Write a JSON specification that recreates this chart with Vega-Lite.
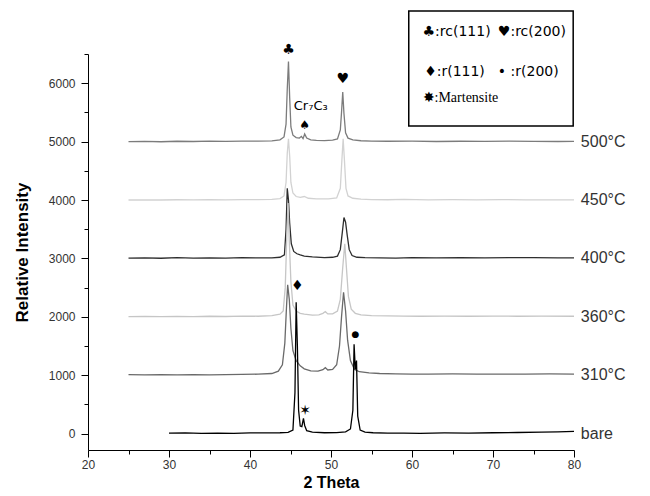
{
  "$schema": "https://vega.github.io/schema/vega-lite/v6.json",
  "width": 486,
  "height": 396,
  "autosize": {"type": "none"},
  "padding": {"left": 88, "top": 54, "right": 76, "bottom": 46},
  "background": "white",
  "config": {"view": {"stroke": null}, "font": "Liberation Sans"},
  "datasets": {
    "curves": [
      {"s":"500","x":25,"y":5000},{"s":"500","x":27,"y":5005},{"s":"500","x":29,"y":4998},{"s":"500","x":31,"y":5006},{"s":"500","x":33,"y":5002},{"s":"500","x":35,"y":5008},{"s":"500","x":37,"y":5003},{"s":"500","x":39,"y":5010},{"s":"500","x":41,"y":5008},{"s":"500","x":42.7,"y":5012},{"s":"500","x":43.7,"y":5030},{"s":"500","x":44.2,"y":5080},{"s":"500","x":44.45,"y":5300},{"s":"500","x":44.6,"y":5900},{"s":"500","x":44.75,"y":6370},{"s":"500","x":44.9,"y":5750},{"s":"500","x":45.05,"y":5250},{"s":"500","x":45.3,"y":5110},{"s":"500","x":45.7,"y":5070},{"s":"500","x":46.1,"y":5060},{"s":"500","x":46.35,"y":5090},{"s":"500","x":46.55,"y":5050},{"s":"500","x":46.75,"y":5130},{"s":"500","x":47.0,"y":5060},{"s":"500","x":47.5,"y":5030},{"s":"500","x":48.2,"y":5020},{"s":"500","x":49.2,"y":5018},{"s":"500","x":50.2,"y":5025},{"s":"500","x":50.8,"y":5045},{"s":"500","x":51.15,"y":5200},{"s":"500","x":51.3,"y":5500},{"s":"500","x":51.45,"y":5850},{"s":"500","x":51.6,"y":5480},{"s":"500","x":51.8,"y":5150},{"s":"500","x":52.1,"y":5060},{"s":"500","x":52.7,"y":5030},{"s":"500","x":53.7,"y":5015},{"s":"500","x":55,"y":5010},{"s":"500","x":57,"y":5006},{"s":"500","x":60,"y":5008},{"s":"500","x":63,"y":5002},{"s":"500","x":66,"y":5006},{"s":"500","x":69,"y":5003},{"s":"500","x":72,"y":5007},{"s":"500","x":75,"y":5004},{"s":"500","x":78,"y":5002},{"s":"500","x":80,"y":5003},

      {"s":"450","x":25,"y":4000},{"s":"450","x":27,"y":4004},{"s":"450","x":29,"y":4000},{"s":"450","x":31,"y":4005},{"s":"450","x":33,"y":4002},{"s":"450","x":35,"y":4006},{"s":"450","x":37,"y":4002},{"s":"450","x":39,"y":4008},{"s":"450","x":41,"y":4006},{"s":"450","x":42.7,"y":4010},{"s":"450","x":43.7,"y":4025},{"s":"450","x":44.2,"y":4070},{"s":"450","x":44.45,"y":4300},{"s":"450","x":44.6,"y":4800},{"s":"450","x":44.75,"y":5050},{"s":"450","x":44.9,"y":4750},{"s":"450","x":45.05,"y":4300},{"s":"450","x":45.3,"y":4120},{"s":"450","x":45.7,"y":4060},{"s":"450","x":46.2,"y":4045},{"s":"450","x":46.7,"y":4060},{"s":"450","x":47.2,"y":4030},{"s":"450","x":48.2,"y":4020},{"s":"450","x":49.7,"y":4020},{"s":"450","x":50.7,"y":4035},{"s":"450","x":51.15,"y":4200},{"s":"450","x":51.35,"y":4700},{"s":"450","x":51.5,"y":5050},{"s":"450","x":51.65,"y":4700},{"s":"450","x":51.85,"y":4200},{"s":"450","x":52.1,"y":4070},{"s":"450","x":52.7,"y":4030},{"s":"450","x":53.7,"y":4015},{"s":"450","x":55,"y":4008},{"s":"450","x":57,"y":4005},{"s":"450","x":59,"y":4010},{"s":"450","x":62,"y":4004},{"s":"450","x":65,"y":4008},{"s":"450","x":68,"y":4003},{"s":"450","x":71,"y":4006},{"s":"450","x":74,"y":4004},{"s":"450","x":77,"y":4003},{"s":"450","x":80,"y":4002},

      {"s":"400","x":25,"y":3005},{"s":"400","x":27,"y":3010},{"s":"400","x":29,"y":3003},{"s":"400","x":31,"y":3012},{"s":"400","x":33,"y":3006},{"s":"400","x":35,"y":3010},{"s":"400","x":37,"y":3004},{"s":"400","x":39,"y":3012},{"s":"400","x":41,"y":3008},{"s":"400","x":42.7,"y":3010},{"s":"400","x":43.7,"y":3020},{"s":"400","x":44.25,"y":3060},{"s":"400","x":44.45,"y":3500},{"s":"400","x":44.6,"y":4200},{"s":"400","x":44.75,"y":4000},{"s":"400","x":44.9,"y":3600},{"s":"400","x":45.1,"y":3250},{"s":"400","x":45.4,"y":3120},{"s":"400","x":45.8,"y":3080},{"s":"400","x":46.2,"y":3060},{"s":"400","x":46.7,"y":3040},{"s":"400","x":47.7,"y":3025},{"s":"400","x":49.2,"y":3015},{"s":"400","x":50.2,"y":3020},{"s":"400","x":50.8,"y":3040},{"s":"400","x":51.15,"y":3150},{"s":"400","x":51.4,"y":3450},{"s":"400","x":51.6,"y":3700},{"s":"400","x":51.8,"y":3620},{"s":"400","x":52.0,"y":3400},{"s":"400","x":52.25,"y":3150},{"s":"400","x":52.6,"y":3050},{"s":"400","x":53.2,"y":3020},{"s":"400","x":54.2,"y":3012},{"s":"400","x":56,"y":3010},{"s":"400","x":58,"y":3006},{"s":"400","x":60,"y":3012},{"s":"400","x":63,"y":3008},{"s":"400","x":66,"y":3014},{"s":"400","x":69,"y":3010},{"s":"400","x":72,"y":3015},{"s":"400","x":75,"y":3012},{"s":"400","x":78,"y":3010},{"s":"400","x":80,"y":3008},

      {"s":"360","x":25,"y":2005},{"s":"360","x":27,"y":2008},{"s":"360","x":29,"y":2004},{"s":"360","x":31,"y":2008},{"s":"360","x":33,"y":2005},{"s":"360","x":35,"y":2010},{"s":"360","x":37,"y":2006},{"s":"360","x":39,"y":2012},{"s":"360","x":41,"y":2010},{"s":"360","x":42.7,"y":2020},{"s":"360","x":43.7,"y":2045},{"s":"360","x":44.1,"y":2100},{"s":"360","x":44.35,"y":2500},{"s":"360","x":44.55,"y":3400},{"s":"360","x":44.7,"y":3950},{"s":"360","x":44.85,"y":3300},{"s":"360","x":45.05,"y":2600},{"s":"360","x":45.3,"y":2200},{"s":"360","x":45.7,"y":2100},{"s":"360","x":46.2,"y":2060},{"s":"360","x":46.7,"y":2045},{"s":"360","x":47.7,"y":2030},{"s":"360","x":48.5,"y":2035},{"s":"360","x":49.0,"y":2060},{"s":"360","x":49.3,"y":2090},{"s":"360","x":49.6,"y":2050},{"s":"360","x":50.2,"y":2050},{"s":"360","x":50.8,"y":2100},{"s":"360","x":51.15,"y":2300},{"s":"360","x":51.45,"y":2850},{"s":"360","x":51.7,"y":3250},{"s":"360","x":51.9,"y":2850},{"s":"360","x":52.15,"y":2350},{"s":"360","x":52.5,"y":2130},{"s":"360","x":53.0,"y":2060},{"s":"360","x":53.7,"y":2035},{"s":"360","x":55,"y":2020},{"s":"360","x":57,"y":2015},{"s":"360","x":59,"y":2012},{"s":"360","x":61,"y":2010},{"s":"360","x":64,"y":2012},{"s":"360","x":67,"y":2010},{"s":"360","x":70,"y":2012},{"s":"360","x":73,"y":2010},{"s":"360","x":76,"y":2012},{"s":"360","x":80,"y":2010},

      {"s":"310","x":25,"y":1010},{"s":"310","x":27,"y":1006},{"s":"310","x":29,"y":1008},{"s":"310","x":31,"y":1005},{"s":"310","x":33,"y":1010},{"s":"310","x":35,"y":1007},{"s":"310","x":37,"y":1012},{"s":"310","x":39,"y":1015},{"s":"310","x":41,"y":1018},{"s":"310","x":42.7,"y":1030},{"s":"310","x":43.5,"y":1070},{"s":"310","x":44.0,"y":1180},{"s":"310","x":44.3,"y":1550},{"s":"310","x":44.5,"y":2150},{"s":"310","x":44.65,"y":2550},{"s":"310","x":44.85,"y":2300},{"s":"310","x":45.05,"y":1800},{"s":"310","x":45.3,"y":1420},{"s":"310","x":45.7,"y":1250},{"s":"310","x":46.2,"y":1160},{"s":"310","x":46.7,"y":1110},{"s":"310","x":47.5,"y":1075},{"s":"310","x":48.4,"y":1070},{"s":"310","x":49.0,"y":1095},{"s":"310","x":49.3,"y":1130},{"s":"310","x":49.6,"y":1090},{"s":"310","x":50.2,"y":1100},{"s":"310","x":50.7,"y":1180},{"s":"310","x":51.05,"y":1500},{"s":"310","x":51.3,"y":2000},{"s":"310","x":51.55,"y":2420},{"s":"310","x":51.8,"y":2100},{"s":"310","x":52.05,"y":1600},{"s":"310","x":52.4,"y":1250},{"s":"310","x":52.9,"y":1100},{"s":"310","x":53.5,"y":1060},{"s":"310","x":54.7,"y":1040},{"s":"310","x":56,"y":1030},{"s":"310","x":58,"y":1025},{"s":"310","x":60,"y":1020},{"s":"310","x":62,"y":1018},{"s":"310","x":65,"y":1022},{"s":"310","x":68,"y":1018},{"s":"310","x":71,"y":1020},{"s":"310","x":74,"y":1018},{"s":"310","x":77,"y":1022},{"s":"310","x":80,"y":1018},

      {"s":"bare","x":30,"y":8},{"s":"bare","x":32,"y":12},{"s":"bare","x":34,"y":5},{"s":"bare","x":36,"y":10},{"s":"bare","x":38,"y":6},{"s":"bare","x":40,"y":12},{"s":"bare","x":42,"y":14},{"s":"bare","x":43.7,"y":15},{"s":"bare","x":44.7,"y":22},{"s":"bare","x":45.3,"y":60},{"s":"bare","x":45.55,"y":700},{"s":"bare","x":45.7,"y":2250},{"s":"bare","x":45.85,"y":1500},{"s":"bare","x":46.0,"y":400},{"s":"bare","x":46.2,"y":130},{"s":"bare","x":46.4,"y":120},{"s":"bare","x":46.6,"y":260},{"s":"bare","x":46.75,"y":140},{"s":"bare","x":47.0,"y":50},{"s":"bare","x":47.7,"y":25},{"s":"bare","x":49.2,"y":15},{"s":"bare","x":50.7,"y":18},{"s":"bare","x":51.8,"y":30},{"s":"bare","x":52.4,"y":80},{"s":"bare","x":52.7,"y":400},{"s":"bare","x":52.85,"y":1530},{"s":"bare","x":53.0,"y":1100},{"s":"bare","x":53.15,"y":1250},{"s":"bare","x":53.3,"y":300},{"s":"bare","x":53.6,"y":60},{"s":"bare","x":54.2,"y":25},{"s":"bare","x":55.2,"y":15},{"s":"bare","x":57,"y":8},{"s":"bare","x":59,"y":10},{"s":"bare","x":61,"y":6},{"s":"bare","x":64,"y":12},{"s":"bare","x":67,"y":10},{"s":"bare","x":70,"y":15},{"s":"bare","x":73,"y":20},{"s":"bare","x":76,"y":25},{"s":"bare","x":78,"y":30},{"s":"bare","x":80,"y":40}
    ],
    "peakmarks": [
      {"x":44.75,"y":6570,"t":"♣","z":14},
      {"x":51.45,"y":6070,"t":"♥","z":14},
      {"x":46.75,"y":5290,"t":"♠","z":12},
      {"x":45.85,"y":2530,"t":"♦","z":14},
      {"x":53.0,"y":1700,"t":"●","z":9},
      {"x":46.8,"y":380,"t":"✶","z":14}
    ],
    "crc": [
      {"x":47.5,"y":5610,"t":"Cr₇C₃"}
    ],
    "labels": [
      {"x":80.6,"y":5000,"t":"500°C"},
      {"x":80.6,"y":4000,"t":"450°C"},
      {"x":80.6,"y":3000,"t":"400°C"},
      {"x":80.6,"y":2000,"t":"360°C"},
      {"x":80.6,"y":1000,"t":"310°C"},
      {"x":80.6,"y":0,"t":"bare"}
    ],
    "box": [
      {"x":59.6,"x2":79.9,"y":5267,"y2":7236}
    ],
    "legsans": [
      {"x":61.3,"y":6877,"t":"♣:rc(111)"},
      {"x":70.6,"y":6877,"t":"♥:rc(200)"},
      {"x":61.5,"y":6192,"t":"♦:r(111)"},
      {"x":70.6,"y":6192,"t":"• :r(200)"}
    ],
    "legserif": [
      {"x":61.3,"y":5747,"t":"✸:Martensite"}
    ]
  },
  "encoding": {
    "x": {
      "field": "x", "type": "quantitative",
      "scale": {"domain": [20, 80], "nice": false, "zero": false},
      "axis": {
        "title": "2 Theta",
        "values": [20,25,30,35,40,45,50,55,60,65,70,75,80],
        "labelExpr": "datum.value % 10 === 0 ? datum.label : ''",
        "tickSize": {"condition": {"test": "datum.value % 10 === 0", "value": 7}, "value": 4},
        "labelFlush": false, "labelOverlap": false, "grid": false,
        "domainColor": "#000", "tickColor": "#000", "labelColor": "#333",
        "labelFont": "Liberation Sans", "labelFontSize": 12, "labelPadding": 2,
        "titleFont": "Liberation Sans", "titleFontSize": 16, "titleFontWeight": "bold", "titleColor": "#000", "titlePadding": 4
      }
    },
    "y": {
      "field": "y", "type": "quantitative",
      "scale": {"domain": [-280, 6500], "nice": false, "zero": false},
      "axis": {
        "title": "Relative Intensity",
        "values": [0,500,1000,1500,2000,2500,3000,3500,4000,4500,5000,5500,6000,6500],
        "format": "d",
        "labelExpr": "datum.value % 1000 === 0 ? datum.label : ''",
        "tickSize": {"condition": {"test": "datum.value % 1000 === 0", "value": 7}, "value": 4},
        "labelOverlap": false, "grid": false,
        "domainColor": "#000", "tickColor": "#000", "labelColor": "#333",
        "labelFont": "Liberation Sans", "labelFontSize": 12, "labelPadding": 6,
        "titleFont": "Liberation Sans", "titleFontSize": 17, "titleFontWeight": "bold", "titleColor": "#000", "titlePadding": 17
      }
    }
  },
  "layer": [
    {
      "data": {"name": "curves"},
      "mark": {"type": "line", "strokeWidth": 1.3},
      "encoding": {
        "color": {
          "field": "s", "type": "nominal",
          "scale": {"domain": ["500","450","400","360","310","bare"], "range": ["#7c7c7c","#d2d2d2","#2e2e2e","#c6c6c6","#6a6a6a","#000000"]},
          "legend": null
        }
      }
    },
    {
      "data": {"name": "peakmarks"},
      "mark": {"type": "text", "color": "#000", "baseline": "middle", "align": "center", "font": "DejaVu Sans"},
      "encoding": {"text": {"field": "t"}, "size": {"field": "z", "type": "quantitative", "scale": null}}
    },
    {
      "data": {"name": "crc"},
      "mark": {"type": "text", "fontSize": 13, "color": "#000", "baseline": "middle", "align": "center", "font": "DejaVu Sans"},
      "encoding": {"text": {"field": "t"}}
    },
    {
      "data": {"name": "labels"},
      "mark": {"type": "text", "fontSize": 16, "color": "#333", "baseline": "middle", "align": "left", "dx": 2, "font": "Liberation Sans"},
      "encoding": {"text": {"field": "t"}}
    },
    {
      "data": {"name": "box"},
      "mark": {"type": "rect", "fill": null, "stroke": "#000", "strokeWidth": 1.5},
      "encoding": {"x2": {"field": "x2"}, "y2": {"field": "y2"}}
    },
    {
      "data": {"name": "legsans"},
      "mark": {"type": "text", "fontSize": 14, "color": "#000", "baseline": "middle", "align": "left", "font": "DejaVu Sans"},
      "encoding": {"text": {"field": "t"}}
    },
    {
      "data": {"name": "legserif"},
      "mark": {"type": "text", "fontSize": 14, "color": "#000", "baseline": "middle", "align": "left", "font": "Liberation Serif"},
      "encoding": {"text": {"field": "t"}}
    }
  ]
}
